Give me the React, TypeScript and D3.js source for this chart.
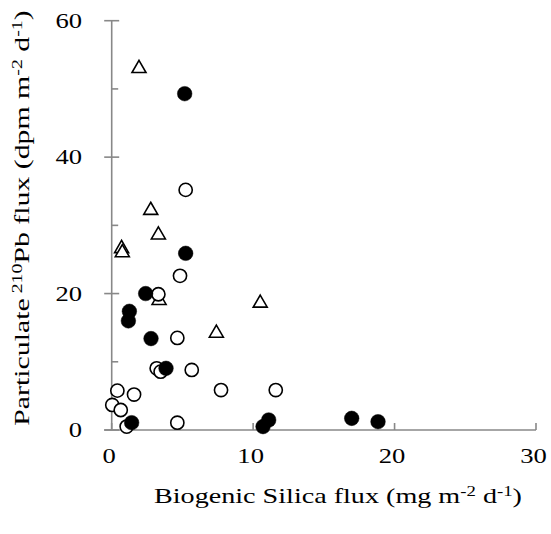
import React from "react";
import * as d3 from "d3";

const filledX = [5.16, 5.23, 2.4, 1.25, 1.18, 2.78, 3.84, 1.41, 10.7, 11.1, 16.97, 18.83];
const filledY = [49.3, 25.9, 20.0, 17.4, 16.0, 13.4, 9.04, 1.07, 0.5, 1.47, 1.71, 1.22];

const openX = [5.23, 4.83, 3.3, 4.64, 3.18, 3.46, 5.66, 0.4, 1.58, 0.04, 0.64, 1.06, 4.64, 7.73, 11.6];
const openY = [35.2, 22.6, 19.9, 13.5, 9.04, 8.55, 8.8, 5.77, 5.2, 3.67, 2.93, 0.5, 1.07, 5.86, 5.86];

const triX = [1.93, 2.76, 3.3, 0.7, 0.75, 3.35, 10.5, 7.4];
const triY = [53.0, 32.2, 28.6, 26.6, 26.0, 19.0, 18.6, 14.2];

const xTicks = [0, 10, 20, 30];
const yTicks = [0, 20, 40, 60];
const yMinor = [10, 30, 50];

const W = 551;
const H = 534;
const FONT = "'Liberation Serif', 'Times New Roman', serif";
const AXIS = "#888888";
const SX = 1.33;
const FS = 20;

export default function App() {
  const x = d3.scaleLinear().domain([0, 30]).range([111.7, 536]);
  const y = d3.scaleLinear().domain([0, 60]).range([430, 20.7]);
  const tri = d3.symbol().type(d3.symbolTriangle).size(85)();

  return (
    <svg width={W} height={H} style={{ position: "absolute", left: 0, top: 0 }}>
      <rect width={W} height={H} fill="#fff" />
      {/* axes */}
      <line x1={x(0)} x2={x(0)} y1={y(0)} y2={y(60)} stroke={AXIS} strokeWidth={1.6} />
      <line x1={x(0) - 7.5} x2={x(30)} y1={y(0)} y2={y(0)} stroke={AXIS} strokeWidth={1.6} />
      {yTicks.map((t) => (
        <line key={"yt" + t} x1={x(0) - 7.5} x2={x(0) + 7.5} y1={y(t)} y2={y(t)} stroke={AXIS} strokeWidth={1.6} />
      ))}
      {yMinor.map((t) => (
        <line key={"ym" + t} x1={x(0)} x2={x(0) + 6.5} y1={y(t)} y2={y(t)} stroke={AXIS} strokeWidth={1.6} />
      ))}
      {xTicks.map((t) => (
        <line key={"xt" + t} x1={x(t)} x2={x(t)} y1={y(0)} y2={y(0) - 7} stroke={AXIS} strokeWidth={1.6} />
      ))}
      {/* tick labels */}
      {yTicks.map((t) => (
        <text
          key={"yl" + t}
          transform={`translate(82,${y(t)}) scale(${SX},1)`}
          dy="0.35em"
          textAnchor="end"
          fontFamily={FONT}
          fontSize={FS}
          fill="#000"
        >
          {t}
        </text>
      ))}
      {xTicks.map((t) => (
        <text
          key={"xl" + t}
          transform={`translate(${x(t) - 2.5},463) scale(${SX},1)`}
          textAnchor="middle"
          fontFamily={FONT}
          fontSize={FS}
          fill="#000"
        >
          {t}
        </text>
      ))}
      {/* axis titles */}
      <text
        transform="translate(338,503) scale(1.34,1)"
        textAnchor="middle"
        fontFamily={FONT}
        fontSize={21}
        fill="#000"
      >
        Biogenic Silica flux (mg m
        <tspan fontSize={14} dy={-7}>-2</tspan>
        <tspan dy={7}> d</tspan>
        <tspan fontSize={14} dy={-7}>-1</tspan>
        <tspan dy={7}>)</tspan>
      </text>
      <text
        transform="translate(29,218) scale(1,1.42) rotate(-90)"
        textAnchor="middle"
        fontFamily={FONT}
        fontSize={21}
        fill="#000"
      >
        Particulate
        <tspan fontSize={14} dy={-7}> 210</tspan>
        <tspan dy={7}>Pb flux (dpm m</tspan>
        <tspan fontSize={14} dy={-7}>-2</tspan>
        <tspan dy={7}> d</tspan>
        <tspan fontSize={14} dy={-7}>-1</tspan>
        <tspan dy={7}>)</tspan>
      </text>
      {/* markers */}
      {triX.map((v, i) => (
        <path
          key={"tr" + i}
          d={tri as string}
          transform={`translate(${x(v)},${y(triY[i])})`}
          fill="#fff"
          stroke="#000"
          strokeWidth={1.6}
        />
      ))}
      {openX.map((v, i) => (
        <circle key={"oc" + i} cx={x(v)} cy={y(openY[i])} r={6.6} fill="#fff" stroke="#000" strokeWidth={1.6} />
      ))}
      {filledX.map((v, i) => (
        <circle key={"fc" + i} cx={x(v)} cy={y(filledY[i])} r={7.3} fill="#000" stroke="#000" strokeWidth={0.5} />
      ))}
    </svg>
  );
}
